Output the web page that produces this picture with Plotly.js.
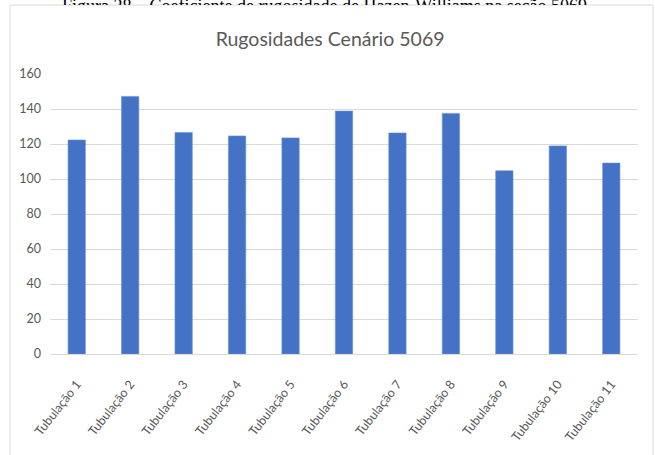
<!DOCTYPE html>
<html>
<head>
<meta charset="utf-8">
<script src="https://cdn.plot.ly/plotly-3.0.1.min.js"></script>
<style>
  html, body { margin: 0; padding: 0; background: #ffffff; }
  #wrap { position: relative; width: 655px; height: 455px; overflow: hidden; }
  #caption { position: absolute; top: 0; left: 0; width: 655px; height: 5px; overflow: hidden; z-index: 2; }
  #caption span { position: absolute; top: -3px; left: 62px; white-space: nowrap;
    font-family: "Liberation Serif", "Times New Roman", serif; font-size: 18px; line-height: 18px; color: #000; }
  #chart { position: absolute; top: 0; left: 0; width: 655px; height: 455px; }
</style>
</head>
<body>
<div id="wrap">
  <div id="caption"><span>Figura 28 – Coeficiente de rugosidade de Hazen-Williams na seção 5069</span></div>
  <div id="chart"></div>
</div>
<script>
// Roughness coefficient per pipe section
const categories = ["Tubulação 1", "Tubulação 2", "Tubulação 3", "Tubulação 4", "Tubulação 5",
  "Tubulação 6", "Tubulação 7", "Tubulação 8", "Tubulação 9", "Tubulação 10", "Tubulação 11"];
const rugosidade = [122.3, 147.2, 126.6, 124.6, 123.5, 138.8, 126.3, 137.5, 104.7, 118.9, 109.1];
const yTicks = [0, 20, 40, 60, 80, 100, 120, 140, 160];

const tickFont = { family: "Lato, 'Open Sans', sans-serif", size: 12.5, color: "#595959" };

const trace = {
  type: "bar",
  x: categories,
  y: rugosidade,
  marker: { color: "#4472C4", line: { color: "#6a8fd6", width: 0.6 } },
  hoverinfo: "x+y"
};

const layout = {
  width: 655,
  height: 455,
  margin: { l: 50, r: 17, t: 74, b: 101 },
  paper_bgcolor: "rgba(0,0,0,0)",
  plot_bgcolor: "rgba(0,0,0,0)",
  showlegend: false,
  bargap: 0.676,
  title: {
    text: "Rugosidades Cenário 5069",
    font: { family: "Lato, 'Open Sans', sans-serif", size: 19.5, color: "#595959" },
    xref: "container", x: 0.504, xanchor: "center",
    yref: "container", y: 1 - 39 / 455, yanchor: "middle"
  },
  xaxis: {
    type: "category",
    tickangle: -52,
    tickfont: tickFont,
    ticks: "",
    ticklabelstandoff: 17,
    showgrid: false,
    showline: true,
    linecolor: "#d9d9d9",
    linewidth: 1,
    zeroline: false,
    fixedrange: true
  },
  yaxis: {
    range: [0, 160],
    tickvals: yTicks,
    tickfont: tickFont,
    ticks: "",
    ticklabelstandoff: 8,
    showgrid: true,
    gridcolor: "#d9d9d9",
    gridwidth: 1,
    zeroline: false,
    showline: false,
    fixedrange: true
  },
  shapes: [
    // white chart area with a light frame
    {
      type: "rect", xref: "paper", yref: "paper", layer: "below",
      x0: (10 - 50) / 588, x1: (653 - 50) / 588,
      y0: (354 - 470) / 280, y1: (354 - 5) / 280,
      fillcolor: "#ffffff",
      line: { color: "#d9d9d9", width: 1 }
    }
  ]
};

Plotly.newPlot("chart", [trace], layout, { displayModeBar: false, staticPlot: true });
</script>
</body>
</html>
